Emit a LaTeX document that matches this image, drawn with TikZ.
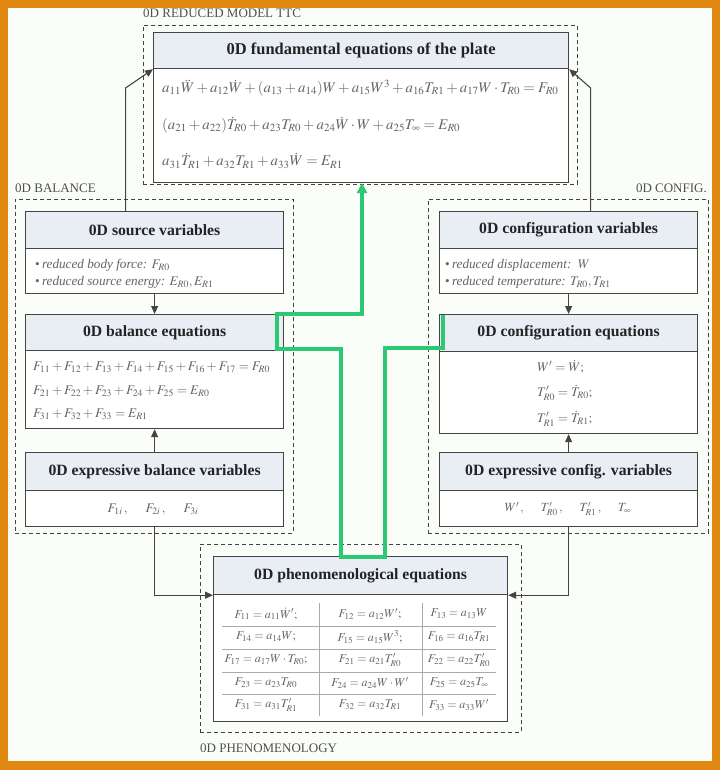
\documentclass[tikz,border=0pt]{standalone}
\usepackage{mathptmx}
\usepackage{fontspec}
\setmainfont{Liberation Serif}
\usetikzlibrary{arrows.meta,calc}
\definecolor{orangeF}{RGB}{224,136,16}
\definecolor{bgc}{RGB}{250,253,248}
\definecolor{hdrc}{RGB}{232,238,244}
\definecolor{edgec}{RGB}{68,68,68}
\definecolor{txtc}{RGB}{35,35,35}
\definecolor{eqc}{RGB}{100,100,100}
\definecolor{lblc}{RGB}{80,80,80}
\definecolor{greenc}{RGB}{45,200,115}
\definecolor{tblc}{RGB}{170,170,170}
\tikzset{
  grp/.style={draw=edgec, line width=0.8pt, dash pattern=on 4pt off 3pt, inner sep=0pt, anchor=north west},
  hdr/.style={draw=edgec, line width=1.2pt, fill=hdrc, inner sep=0pt, anchor=north west,
    font=\fontsize{15.7}{18}\selectfont\bfseries, text=txtc},
  bodyb/.style={draw=edgec, line width=1.2pt, fill=white, inner sep=0pt, anchor=north west},
  eq/.style={inner sep=0pt, text=eqc, font=\fontsize{14.8}{17}\selectfont},
  eqs/.style={inner sep=0pt, text=eqc, font=\fontsize{13.2}{15}\selectfont},
  bul/.style={inner sep=0pt, anchor=west, text=eqc, font=\fontsize{13.2}{15}\selectfont\itshape},
  tb/.style={inner sep=0pt, text=eqc, font=\fontsize{12}{14}\selectfont},
  lbl/.style={inner sep=0pt, text=lblc, font=\fontsize{13}{15}\selectfont},
  arr/.style={draw=edgec, line width=1.1pt, -{Triangle[length=8pt,width=7pt]}},
  gpath/.style={draw=greenc, line width=3.6pt, line join=miter}
}
\begin{document}
\begin{tikzpicture}[x=1pt,y=-1pt]
\useasboundingbox (0,0) rectangle (720,770);
\fill[orangeF] (0,0) rectangle (720,770);
\fill[bgc] (8,8) rectangle (712,761);

% group frames
\node[grp, minimum width=434pt, minimum height=159pt] (dTop) at (143,25) {};
\node[grp, minimum width=278pt, minimum height=334pt] (dBal) at (15,199) {};
\node[grp, minimum width=280pt, minimum height=334pt] (dCfg) at (428,199) {};
\node[grp, minimum width=321pt, minimum height=188pt] (dPh) at (200,544) {};
\node[lbl, anchor=base west] (lTop) at (143,18) {0D REDUCED MODEL TTC};
\node[lbl, anchor=base west] (lBal) at (15,192) {0D BALANCE};
\node[lbl, anchor=base east] (lCfg) at (707,192) {0D CONFIG.};
\node[lbl, anchor=base west] (lPh) at (200,752) {0D PHENOMENOLOGY};

% fundamental equations
\node[bodyb, minimum width=415pt, minimum height=114pt] (fundB) at (153,68) {};
\node[hdr, minimum width=415pt, minimum height=36pt, font=\fontsize{16.5}{19}\selectfont\bfseries] (fundH) at (153,32) {0D fundamental equations of the plate};
\node[eq, anchor=west] (e1) at (162,88) {$a_{11}\ddot W + a_{12}\dot W + (a_{13}+a_{14})W + a_{15}W^{3} + a_{16}T_{R1} + a_{17}W\cdot T_{R0} = F_{R0}$};
\node[eq, anchor=west] (e2) at (162,125) {$(a_{21}+a_{22})\dot T_{R0} + a_{23}T_{R0} + a_{24}\dot W\cdot W + a_{25}T_{\infty} = E_{R0}$};
\node[eq, anchor=west] (e3) at (162,161) {$a_{31}\dot T_{R1} + a_{32}T_{R1} + a_{33}\dot W = E_{R1}$};

% balance column
\node[bodyb, minimum width=258pt, minimum height=45pt] (srcB) at (25,248) {};
\node[hdr, minimum width=258pt, minimum height=37pt] (srcH) at (25,211) {0D source variables};
\node[bul] (s1) at (35,265) {{\upshape\textbullet}\,reduced body force: $F_{R0}$};
\node[bul] (s2) at (35,282) {{\upshape\textbullet}\,reduced source energy: $E_{R0}, E_{R1}$};

\node[bodyb, minimum width=258pt, minimum height=78pt] (balB) at (25,350) {};
\node[hdr, minimum width=258pt, minimum height=36pt] (balH) at (25,314) {0D balance equations};
\node[eqs, anchor=west] (b1) at (33,367) {$F_{11}+F_{12}+F_{13}+F_{14}+F_{15}+F_{16}+F_{17}=F_{R0}$};
\node[eqs, anchor=west] (b2) at (33,391) {$F_{21}+F_{22}+F_{23}+F_{24}+F_{25}=E_{R0}$};
\node[eqs, anchor=west] (b3) at (33,414) {$F_{31}+F_{32}+F_{33}=E_{R1}$};

\node[bodyb, minimum width=258pt, minimum height=36pt] (expB) at (25,490) {};
\node[hdr, minimum width=258pt, minimum height=38pt] (expH) at (25,452) {0D expressive balance variables};
\node[eqs] (x1) at (153,509) {$F_{1i}\,,\quad\ F_{2i}\,,\quad\ F_{3i}$};

% configuration column
\node[bodyb, minimum width=258pt, minimum height=45pt] (cfgB) at (439,248) {};
\node[hdr, minimum width=258pt, minimum height=37pt] (cfgH) at (439,211) {0D configuration variables};
\node[bul] (c1) at (445,265) {{\upshape\textbullet}\,reduced displacement:\ \ $W$};
\node[bul] (c2) at (445,282) {{\upshape\textbullet}\,reduced temperature: $T_{R0}, T_{R1}$};

\node[bodyb, minimum width=258pt, minimum height=82pt] (cfeB) at (439,351) {};
\node[hdr, minimum width=258pt, minimum height=37pt] (cfeH) at (439,314) {0D configuration equations};
\node[eqs, anchor=west] (g1) at (537,367) {$W' = \dot W;$};
\node[eqs, anchor=west] (g2) at (537,393) {$T'_{R0} = \dot T_{R0};$};
\node[eqs, anchor=west] (g3) at (537,419) {$T'_{R1} = \dot T_{R1};$};

\node[bodyb, minimum width=258pt, minimum height=36pt] (xcfB) at (439,490) {};
\node[hdr, minimum width=258pt, minimum height=38pt] (xcfH) at (439,452) {0D expressive config. variables};
\node[tb, font=\fontsize{12.5}{14}\selectfont] (y1) at (568,509) {$W'\,,\quad\ T'_{R0}\,,\quad\ T'_{R1}\,,\quad\ T_{\infty}$};

% phenomenology
\node[bodyb, minimum width=294pt, minimum height=127pt] (phB) at (213,594) {};
\node[hdr, minimum width=294pt, minimum height=38pt] (phH) at (213,556) {0D phenomenological equations};
\foreach \yy in {626,649,672,694} \draw[tblc, line width=0.8pt] (222,\yy) -- (496,\yy);
\foreach \xx in {319,422} \draw[tblc, line width=0.8pt] (\xx,603) -- (\xx,716);
\node[tb] (t11) at (266,614) {$F_{11}=a_{11}\dot W';$};
\node[tb] (t12) at (370,614) {$F_{12}=a_{12}W';$};
\node[tb] (t13) at (459,614) {$F_{13}=a_{13}W$};
\node[tb] (t21) at (266,637) {$F_{14}=a_{14}W;$};
\node[tb] (t22) at (370,637) {$F_{15}=a_{15}W^{3};$};
\node[tb] (t23) at (459,637) {$F_{16}=a_{16}T_{R1}$};
\node[tb] (t31) at (266,660) {$F_{17}=a_{17}W\cdot T_{R0};$};
\node[tb] (t32) at (370,660) {$F_{21}=a_{21}T'_{R0}$};
\node[tb] (t33) at (459,660) {$F_{22}=a_{22}T'_{R0}$};
\node[tb] (t41) at (266,683) {$F_{23}=a_{23}T_{R0}$};
\node[tb] (t42) at (370,683) {$F_{24}=a_{24}W\cdot W'$};
\node[tb] (t43) at (459,683) {$F_{25}=a_{25}T_{\infty}$};
\node[tb] (t51) at (266,705) {$F_{31}=a_{31}T'_{R1}$};
\node[tb] (t52) at (370,705) {$F_{32}=a_{32}T_{R1}$};
\node[tb] (t53) at (459,705) {$F_{33}=a_{33}W'$};

% connectors
\draw[arr] ($(srcH.north west)!0.388!(srcH.north east)$) -- ++(0,-123) -- (fundH.south west);
\draw[arr] ($(cfgH.north west)!0.585!(cfgH.north east)$) -- ++(0,-123) -- (fundH.south east);
\draw[arr] (srcB.south) -- (balH.north);
\draw[arr] (expH.north) -- (balB.south);
\draw[arr] (cfgB.south) -- (cfeH.north);
\draw[arr] (xcfH.north) -- (cfeB.south);
\draw[arr] (expB.south) |- (phH.south west);
\draw[arr] (xcfB.south) |- (phH.south east);

% green highlight
\draw[gpath, -{Triangle[length=10pt,width=10pt]}] (443,315) -- (443,348) -- (385,348) -- (385,557) -- (341,557) -- (341,349) -- (277,349) -- (277,314) -- (362,314) -- (362,183);
\end{tikzpicture}
\end{document}
